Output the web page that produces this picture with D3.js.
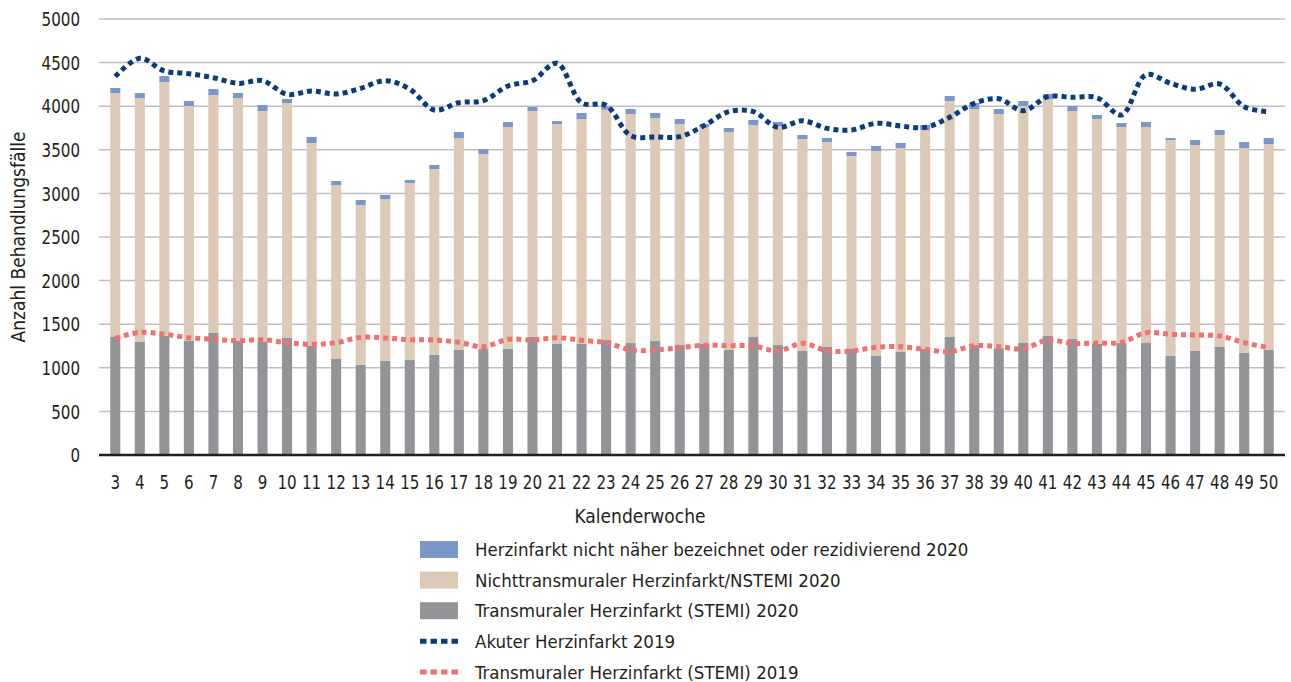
<!DOCTYPE html>
<html>
<head>
<meta charset="utf-8">
<script src="https://cdn.jsdelivr.net/npm/d3@7"></script>
<style>
  body { margin: 0; background: #fff; }
  text { font-family: "DejaVu Sans Condensed", "DejaVu Sans", sans-serif; font-stretch: condensed; fill: #231f20; }
</style>
</head>
<body>
<div id="chart"></div>
<script>
// weeks 3..50
var weeks = d3.range(3, 51);

// 2020 stacked bars
var stemi2020 = [1353, 1296, 1365, 1307, 1399, 1307, 1296, 1342, 1250, 1101, 1032, 1078, 1089, 1147, 1204, 1216,
  1216, 1353, 1273, 1273, 1319, 1284, 1307, 1261, 1273, 1204, 1353, 1261, 1193, 1239, 1216, 1135,
  1181, 1216, 1353, 1261, 1225, 1284, 1365, 1330, 1273, 1284, 1284, 1135, 1193, 1239, 1170, 1204];
var nstemi2020 = [2798, 2798, 2913, 2695, 2729, 2787, 2649, 2695, 2328, 1995, 1835, 1858, 2030, 2133, 2431, 2236,
  2545, 2592, 2523, 2580, 2641, 2627, 2558, 2535, 2488, 2500, 2431, 2512, 2431, 2350, 2213, 2351,
  2340, 2511, 2707, 2707, 2686, 2718, 2718, 2615, 2580, 2477, 2477, 2477, 2362, 2431, 2351, 2362];
var nnb2020 = [58, 57, 68, 58, 69, 57, 69, 46, 69, 46, 57, 46, 35, 46, 69, 57,
  58, 46, 34, 69, 35, 57, 57, 57, 35, 46, 58, 46, 46, 46, 46, 58,
  57, 57, 57, 69, 57, 58, 57, 57, 46, 46, 58, 23, 57, 57, 68, 69];

// 2019 lines
var akut2019 = [4340, 4549, 4404, 4373, 4327, 4262, 4293, 4136, 4174, 4140, 4205, 4293, 4195, 3956, 4040, 4063,
  4232, 4293, 4492, 4040, 4010, 3662, 3647, 3651, 3778, 3937, 3937, 3757, 3834, 3746, 3727, 3804,
  3773, 3757, 3872, 4033, 4085, 3949, 4109, 4102, 4098, 3899, 4361, 4262, 4194, 4255, 3994, 3937];
var stemi2019 = [1338, 1407, 1384, 1345, 1327, 1311, 1322, 1288, 1269, 1288, 1349, 1342, 1322, 1319, 1292, 1242,
  1327, 1319, 1345, 1315, 1288, 1204, 1204, 1231, 1258, 1254, 1250, 1193, 1281, 1196, 1193, 1235,
  1242, 1212, 1185, 1254, 1242, 1219, 1319, 1281, 1284, 1292, 1403, 1384, 1376, 1365, 1288, 1231];

var yTicks = [0, 500, 1000, 1500, 2000, 2500, 3000, 3500, 4000, 4500, 5000];

var seriesKeys = ["stemi", "nstemi", "nnb"];
var seriesColors = { stemi: "#939497", nstemi: "#dccab7", nnb: "#7b96c9" };

var legendItems = [
  { label: "Herzinfarkt nicht näher bezeichnet oder rezidivierend 2020", type: "rect", color: "#7b96c9" },
  { label: "Nichttransmuraler Herzinfarkt/NSTEMI 2020", type: "rect", color: "#dccab7" },
  { label: "Transmuraler Herzinfarkt (STEMI) 2020", type: "rect", color: "#939497" },
  { label: "Akuter Herzinfarkt 2019", type: "line", color: "#0c3b7c" },
  { label: "Transmuraler Herzinfarkt (STEMI) 2019", type: "line", color: "#f27070" }
];

var W = 1291, H = 682;
var squeeze = 0.84; // narrower digits, the original uses a condensed face

var svg = d3.select("#chart").append("svg")
  .attr("width", W)
  .attr("height", H);

var x = d3.scaleBand()
  .domain(weeks)
  .range([103, 1281])
  .paddingInner(0.59)
  .paddingOuter(0.295);

var y = d3.scaleLinear()
  .domain([0, 5000])
  .range([455, 19]);

// ======== Gridlines & y labels ========
svg.append("g").selectAll("line")
  .data(yTicks.filter(function (d) { return d > 0; }))
  .enter().append("line")
  .attr("x1", 99).attr("x2", 1285)
  .attr("y1", function (d) { return y(d); })
  .attr("y2", function (d) { return y(d); })
  .attr("stroke", "#bfbfbf")
  .attr("stroke-width", 1.5);

svg.append("g").selectAll("text")
  .data(yTicks)
  .enter().append("text")
  .attr("transform", function (d) { return "translate(80," + y(d) + ") scale(" + squeeze + ",1)"; })
  .attr("dy", "0.36em")
  .attr("text-anchor", "end")
  .style("font-size", "20px")
  .text(function (d) { return d; });

// ======== Stacked bars ========
var rows = weeks.map(function (w, i) {
  return { week: w, stemi: stemi2020[i], nstemi: nstemi2020[i], nnb: nnb2020[i] };
});
var stack = d3.stack().keys(seriesKeys)(rows);

svg.append("g").selectAll("g")
  .data(stack)
  .enter().append("g")
  .attr("fill", function (d) { return seriesColors[d.key]; })
  .selectAll("rect")
  .data(function (d) { return d; })
  .enter().append("rect")
  .attr("x", function (d) { return x(d.data.week); })
  .attr("y", function (d) { return y(d[1]); })
  .attr("width", x.bandwidth())
  .attr("height", function (d) { return y(d[0]) - y(d[1]); });

// baseline
svg.append("line")
  .attr("x1", 99).attr("x2", 1285)
  .attr("y1", y(0)).attr("y2", y(0))
  .attr("stroke", "#231f20")
  .attr("stroke-width", 2.5);

// ======== 2019 lines ========
var line = d3.line()
  .x(function (d, i) { return x(weeks[i]) + x.bandwidth() / 2; })
  .y(function (d) { return y(d); })
  .curve(d3.curveCatmullRom);

svg.append("path")
  .datum(stemi2019)
  .attr("d", line)
  .attr("fill", "none")
  .attr("stroke", "#f27070")
  .attr("stroke-width", 5)
  .attr("stroke-dasharray", "5 4");

svg.append("path")
  .datum(akut2019)
  .attr("d", line)
  .attr("fill", "none")
  .attr("stroke", "#0c3b7c")
  .attr("stroke-width", 5)
  .attr("stroke-dasharray", "5 4");

// ======== x labels ========
svg.append("g").selectAll("text")
  .data(weeks)
  .enter().append("text")
  .attr("transform", function (d) {
    return "translate(" + (x(d) + x.bandwidth() / 2) + ",482) scale(" + squeeze + ",1)";
  })
  .attr("dy", "0.36em")
  .attr("text-anchor", "middle")
  .style("font-size", "20px")
  .text(function (d) { return d; });

svg.append("text")
  .attr("x", 640)
  .attr("y", 516)
  .attr("dy", "0.35em")
  .attr("text-anchor", "middle")
  .style("font-size", "19px")
  .text("Kalenderwoche");

svg.append("text")
  .attr("transform", "translate(18,237) rotate(-90)")
  .attr("dy", "0.35em")
  .attr("text-anchor", "middle")
  .style("font-size", "19px")
  .text("Anzahl Behandlungsfälle");

// ======== Legend ========
var legend = svg.append("g").selectAll("g")
  .data(legendItems)
  .enter().append("g")
  .attr("transform", function (d, i) { return "translate(420," + (549.5 + i * 30.6) + ")"; });

legend.filter(function (d) { return d.type == "rect"; })
  .append("rect")
  .attr("x", 0).attr("y", -8.5)
  .attr("width", 38).attr("height", 17)
  .attr("fill", function (d) { return d.color; });

legend.filter(function (d) { return d.type == "line"; })
  .append("line")
  .attr("x1", 0).attr("x2", 38)
  .attr("y1", 0).attr("y2", 0)
  .attr("stroke", function (d) { return d.color; })
  .attr("stroke-width", 5)
  .attr("stroke-dasharray", "6.5 4");

legend.append("text")
  .attr("x", 55)
  .attr("dy", "0.36em")
  .style("font-size", "18.5px")
  .text(function (d) { return d.label; });
</script>
</body>
</html>
